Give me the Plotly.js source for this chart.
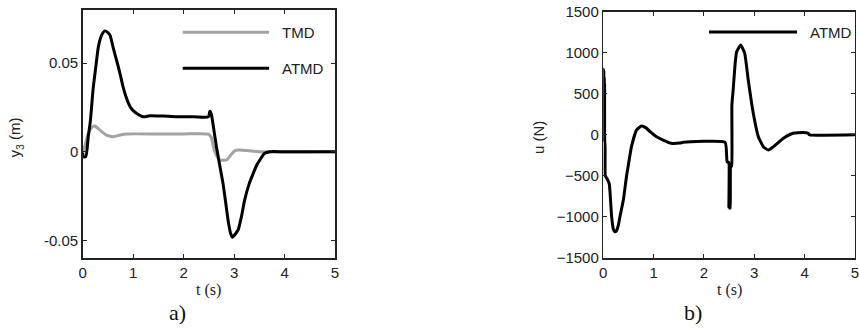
<!DOCTYPE html>
<html>
<head>
<meta charset="utf-8">
<script src="https://cdn.plot.ly/plotly-3.0.1.min.js"></script>
<style>html,body{margin:0;padding:0;background:#fff;}#chart{width:859px;height:331px;}</style>
</head>
<body>
<div id="chart"></div>
<script>
// ---- Data ----
// Panel a): displacement y3 (m)
var atmdT = [0, 0.01, 0.06, 0.11, 0.15, 0.21, 0.26, 0.31, 0.375, 0.44, 0.5, 0.54, 0.61, 0.67, 0.74, 0.8, 0.87, 0.94, 1.0, 1.07, 1.2, 1.33, 1.6, 1.86, 2.2, 2.49, 2.52, 2.55, 2.59, 2.65, 2.68, 2.73, 2.78, 2.83, 2.88, 2.93, 2.97, 3.01, 3.08, 3.15, 3.21, 3.3, 3.38, 3.45, 3.51, 3.6, 3.7, 4.0, 4.5, 5.0];
var atmdY = [-0.0005, -0.0028, -0.0028, 0.0085, 0.017, 0.0366, 0.048, 0.0592, 0.0658, 0.0682, 0.0672, 0.0658, 0.058, 0.0517, 0.044, 0.0366, 0.030, 0.0254, 0.0232, 0.0216, 0.0197, 0.0203, 0.0201, 0.0198, 0.0198, 0.0197, 0.0228, 0.021, 0.0141, 0.0028, -0.002, -0.010, -0.0178, -0.028, -0.0385, -0.046, -0.0483, -0.047, -0.0441, -0.036, -0.0272, -0.018, -0.0122, -0.0075, -0.0047, -0.001, 0, 0, 0, 0];
var tmdT = [0, 0.01, 0.05, 0.11, 0.18, 0.24, 0.34, 0.47, 0.61, 0.74, 0.87, 1.5, 2.0, 2.49, 2.55, 2.59, 2.65, 2.72, 2.8, 2.86, 2.93, 3.01, 3.1, 3.3, 3.5, 5.0];
var tmdY = [0, 0.0006, 0.004, 0.0104, 0.0138, 0.0145, 0.0122, 0.0094, 0.0085, 0.0094, 0.0100, 0.0100, 0.0100, 0.0099, 0.008, 0.0028, -0.002, -0.0047, -0.0048, -0.0045, -0.002, 0.0005, 0.001, 0.0005, 0, 0];

// Panel b): control force u (N)
var uT = [0, 0.003, 0.007, 0.011, 0.015, 0.019, 0.023, 0.027, 0.031, 0.035, 0.04, 0.08, 0.12, 0.165, 0.2, 0.23, 0.26, 0.3, 0.33, 0.4, 0.46, 0.5, 0.56, 0.66, 0.76, 0.85, 0.93, 1.05, 1.19, 1.35, 1.52, 1.59, 2.42, 2.46, 2.49, 2.495, 2.505, 2.51, 2.52, 2.53, 2.55, 2.555, 2.58, 2.62, 2.65, 2.73, 2.81, 2.88, 2.98, 3.08, 3.18, 3.28, 3.38, 3.58, 3.77, 3.97, 4.07, 4.1, 5.0];
var uY = [0, 800, 0, 780, -50, 700, -80, 620, -100, -100, -500, -540, -600, -990, -1150, -1180, -1170, -1100, -1000, -790, -510, -360, -144, 59, 108, 85, 38, -20, -63, -103, -100, -90, -90, -330, -330, -880, -350, -890, -890, -390, -380, 363, 545, 871, 1013, 1094, 993, 668, 262, -22, -144, -185, -144, -42, 19, 30, 19, 0, 0];

// Tick labels
var xTicks = [0, 1, 2, 3, 4, 5];
var yTicksA = [-0.05, 0, 0.05];
var yTicksAText = ['-0.05', '0', '0.05'];
var yTicksB = [-1500, -1000, -500, 0, 500, 1000, 1500];

var sans = '"Liberation Sans", Arial, sans-serif';
var serif = '"Liberation Serif", "Times New Roman", serif';
var tickFont = {family: sans, size: 15, color: '#222'};

var traces = [
  {x: tmdT, y: tmdY, name: 'TMD', mode: 'lines', line: {color: '#a3a3a3', width: 3, shape: 'spline', smoothing: 0.6}, xaxis: 'x', yaxis: 'y'},
  {x: atmdT, y: atmdY, name: 'ATMD', mode: 'lines', line: {color: '#000', width: 3, shape: 'spline', smoothing: 0.6}, xaxis: 'x', yaxis: 'y'},
  {x: uT, y: uY, name: 'ATMD', mode: 'lines', line: {color: '#000', width: 3, shape: 'spline', smoothing: 0.4}, xaxis: 'x2', yaxis: 'y2'}
];

function ax(extra) {
  var base = {showgrid: false, zeroline: false, showline: true, linecolor: '#222', linewidth: 1.5,
    mirror: 'ticks', ticks: 'inside', ticklen: 4, tickwidth: 1, tickcolor: '#222', tickfont: tickFont,
    ticklabeloverflow: 'allow', fixedrange: true};
  for (var k in extra) base[k] = extra[k];
  return base;
}

var layout = {
  width: 859, height: 331,
  margin: {l: 0, r: 0, t: 0, b: 0},
  paper_bgcolor: '#fff', plot_bgcolor: '#fff',
  showlegend: false,
  xaxis: ax({domain: [0.0963, 0.39], range: [0, 5], tickvals: xTicks, anchor: 'y'}),
  yaxis: ax({domain: [0.2205, 0.9698], range: [-0.06, 0.08], tickvals: yTicksA, ticktext: yTicksAText, anchor: 'x'}),
  xaxis2: ax({domain: [0.7023, 0.9953], range: [0, 5], tickvals: xTicks, anchor: 'y2'}),
  yaxis2: ax({domain: [0.2205, 0.9647], range: [-1500, 1500], tickvals: yTicksB, anchor: 'x2'}),
  shapes: [
    {type: 'line', xref: 'paper', yref: 'paper', x0: 0.2127, x1: 0.3132, y0: 0.9024, y1: 0.9024, line: {color: '#a3a3a3', width: 3}},
    {type: 'line', xref: 'paper', yref: 'paper', x0: 0.2127, x1: 0.3132, y0: 0.7937, y1: 0.7937, line: {color: '#000', width: 3}},
    {type: 'line', xref: 'paper', yref: 'paper', x0: 0.8254, x1: 0.9278, y0: 0.9033, y1: 0.9033, line: {color: '#000', width: 3}}
  ],
  annotations: [
    {text: 'TMD', xref: 'paper', yref: 'paper', x: 0.326, y: 0.9024, xanchor: 'left', yanchor: 'middle', showarrow: false, font: tickFont},
    {text: 'ATMD', xref: 'paper', yref: 'paper', x: 0.326, y: 0.7937, xanchor: 'left', yanchor: 'middle', showarrow: false, font: tickFont},
    {text: 'ATMD', xref: 'paper', yref: 'paper', x: 0.9406, y: 0.9033, xanchor: 'left', yanchor: 'middle', showarrow: false, font: tickFont},
    {text: 'y<sub>3</sub> (m)', xref: 'paper', yref: 'paper', x: 0.018, y: 0.586, textangle: -90, xanchor: 'center', yanchor: 'middle', showarrow: false, font: tickFont},
    {text: 'u (N)', xref: 'paper', yref: 'paper', x: 0.6263, y: 0.586, textangle: -90, xanchor: 'center', yanchor: 'middle', showarrow: false, font: tickFont},
    {text: 't (s)', xref: 'paper', yref: 'paper', x: 0.2432, y: 1 - 290/331, xanchor: 'center', yanchor: 'middle', showarrow: false, font: {family: serif, size: 16, color: '#222'}},
    {text: 't (s)', xref: 'paper', yref: 'paper', x: 0.8488, y: 1 - 290/331, xanchor: 'center', yanchor: 'middle', showarrow: false, font: {family: serif, size: 16, color: '#222'}},
    {text: 'a)', xref: 'paper', yref: 'paper', x: 177.5/859, y: 1 - 312/331, xanchor: 'center', yanchor: 'middle', showarrow: false, font: {family: serif, size: 22, color: '#111'}},
    {text: 'b)', xref: 'paper', yref: 'paper', x: 693.3/859, y: 1 - 312/331, xanchor: 'center', yanchor: 'middle', showarrow: false, font: {family: serif, size: 22, color: '#111'}}
  ]
};

Plotly.newPlot('chart', traces, layout, {displayModeBar: false, staticPlot: true});
</script>
</body>
</html>
